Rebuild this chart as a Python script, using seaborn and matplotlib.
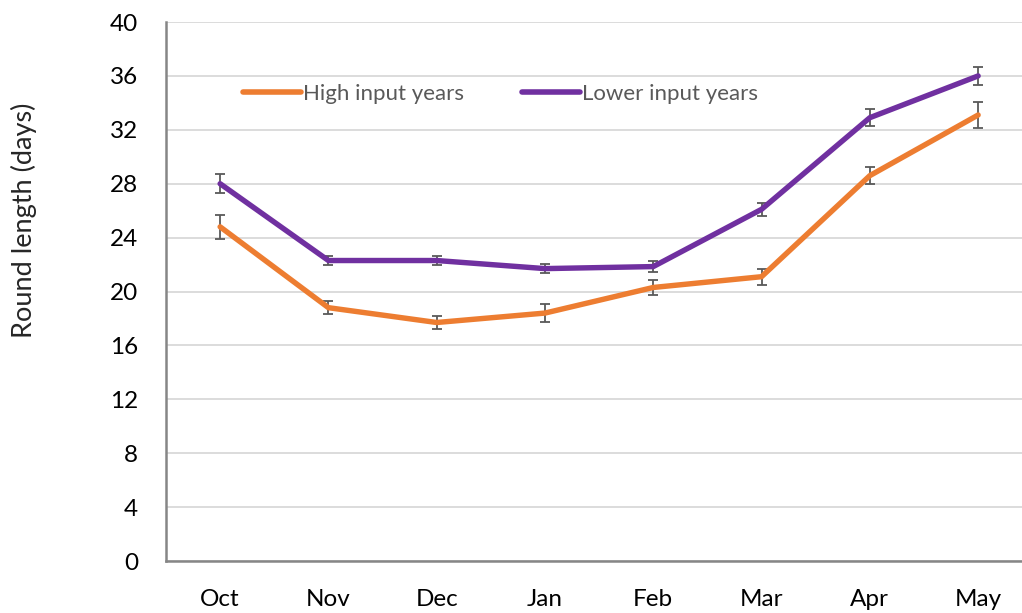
import numpy as np
import pandas as pd
import matplotlib
matplotlib.use("Agg")
import matplotlib.pyplot as plt
import seaborn as sns

''' DATA '''
months = ["Oct", "Nov", "Dec", "Jan", "Feb", "Mar", "Apr", "May"]
high_input = [24.8, 18.8, 17.7, 18.4, 20.3, 21.1, 28.6, 33.1]
high_err = [0.88, 0.5, 0.5, 0.65, 0.53, 0.6, 0.62, 0.96]
lower_input = [28.0, 22.3, 22.3, 21.7, 21.85, 26.1, 32.9, 36.0]
lower_err = [0.7, 0.35, 0.35, 0.35, 0.4, 0.5, 0.65, 0.67]
series_names = ["High input years", "Lower input years"]
y_ticks = [0, 4, 8, 12, 16, 20, 24, 28, 32, 36, 40]

df = pd.DataFrame({
    "month": months * 2,
    "pos": list(range(len(months))) * 2,
    "days": high_input + lower_input,
    "err": high_err + lower_err,
    "series": [series_names[0]] * len(months) + [series_names[1]] * len(months),
})

''' PLOT '''
sns.set_style("white")
plt.rcParams['font.family'] = ['Lato', 'DejaVu Sans']
palette = {series_names[0]: "#ED7D31", series_names[1]: "#7030A0"}

fig = plt.figure(figsize=(10.22, 6.13), dpi=100)
ax = fig.add_axes([0.1624, 0.0848, 0.8376, 0.8793])

for name, sub in df.groupby("series"):
    ax.errorbar(sub["pos"], sub["days"], yerr=sub["err"], fmt="none",
                ecolor="#595959", elinewidth=1.3, capsize=3.5, capthick=1.3, zorder=3)

sns.lineplot(data=df, x="pos", y="days", hue="series", palette=palette,
             linewidth=3.9, ax=ax, zorder=4, solid_capstyle="round")

ax.set_ylim(0, 40)
ax.set_xlim(-0.5, 7.405)
ax.set_yticks(y_ticks)
ax.set_xticks(range(len(months)))
ax.set_xticklabels(months)
ax.set_xticks(np.arange(0.5, 7.5, 1), minor=True)
ax.tick_params(axis="x", which="major", length=0, labelsize=17.5, pad=20, labelcolor="#000000")
ax.tick_params(axis="x", which="minor", length=6, width=1.3, direction="in", color="#868686")
ax.tick_params(axis="y", length=0, labelsize=17.5, pad=20, labelcolor="#000000")
ax.grid(axis="y", color="#d9d9d9", linewidth=1.3)
ax.set_axisbelow(True)

for s in ["top", "right"]:
    ax.spines[s].set_visible(False)
for s in ["left", "bottom"]:
    ax.spines[s].set_color("#868686")
    ax.spines[s].set_linewidth(1.8)

ax.set_xlabel("")
ax.set_ylabel("Round length (days)", fontsize=19.5)
ax.yaxis.set_label_coords(-0.151, 0.633)

leg = ax.legend(loc="center left", bbox_to_anchor=(0.067, 0.866), ncol=2,
                frameon=False, fontsize=16, handlelength=2.6,
                handletextpad=0.1, columnspacing=2.6)
for t in leg.get_texts():
    t.set_color("#595959")
for h in leg.get_lines():
    h.set_linewidth(4)

fig.savefig("out.png", dpi=100)
